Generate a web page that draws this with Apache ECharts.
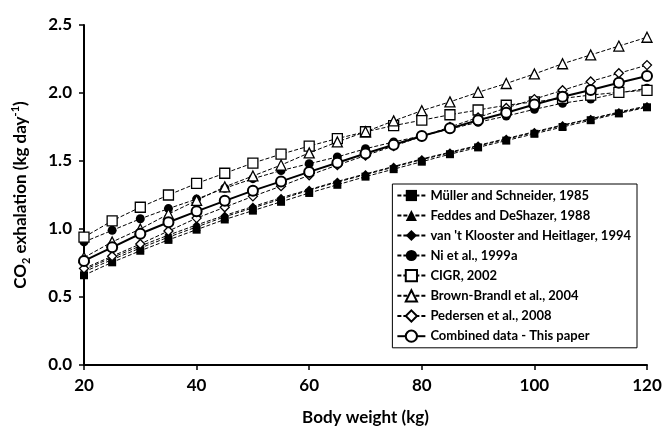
<!DOCTYPE html>
<html>
<head>
<meta charset="utf-8">
<script src="https://cdn.jsdelivr.net/npm/echarts@6/dist/echarts.min.js"></script>
<style>
html,body{margin:0;padding:0;background:#fff;}
#chart{width:665px;height:435px;}
</style>
</head>
<body>
<div id="chart"></div>
<script>
var weights = [20,25,30,35,40,45,50,55,60,65,70,75,80,85,90,95,100,105,110,115,120];
var muller = [0.66,0.755,0.84,0.92,0.995,1.07,1.135,1.20,1.265,1.325,1.385,1.44,1.495,1.55,1.60,1.65,1.70,1.75,1.80,1.85,1.895];
var feddes = [0.685,0.775,0.86,0.94,1.015,1.09,1.155,1.22,1.285,1.345,1.40,1.455,1.51,1.56,1.61,1.66,1.71,1.76,1.81,1.855,1.90];
var klooster = [0.70,0.79,0.875,0.955,1.03,1.10,1.165,1.23,1.29,1.35,1.405,1.46,1.515,1.565,1.615,1.665,1.715,1.765,1.81,1.86,1.905];
var ni = [0.905,0.99,1.075,1.15,1.22,1.30,1.37,1.43,1.48,1.53,1.59,1.64,1.685,1.735,1.785,1.83,1.88,1.925,1.955,2.0,2.035];
var cigr = [0.94,1.06,1.16,1.25,1.335,1.41,1.485,1.55,1.61,1.665,1.715,1.76,1.80,1.84,1.875,1.91,1.935,1.96,1.985,2.005,2.02];
var brown = [0.79,0.905,1.0,1.11,1.21,1.31,1.39,1.47,1.56,1.64,1.715,1.795,1.87,1.935,2.005,2.07,2.14,2.215,2.28,2.345,2.41];
var pedersen = [0.71,0.80,0.89,0.985,1.08,1.16,1.24,1.315,1.395,1.47,1.54,1.61,1.68,1.75,1.82,1.89,1.955,2.02,2.085,2.145,2.205];
var combined = [0.765,0.865,0.965,1.05,1.13,1.207,1.282,1.35,1.42,1.487,1.555,1.62,1.684,1.74,1.80,1.855,1.915,1.972,2.022,2.076,2.125];

var seriesNames = ["Müller and Schneider, 1985","Feddes and DeShazer, 1988","van 't Klooster and Heitlager, 1994","Ni et al., 1999a","CIGR, 2002","Brown-Brandl et al., 2004","Pedersen et al., 2008","Combined data - This paper"];
var xTicks = [20,40,60,80,100,120];
var yTicks = [0,0.5,1.0,1.5,2.0,2.5];

function pairs(vals){ return weights.map(function(w,i){ return [w, vals[i]]; }); }

function dashed(name, vals, symbol, size, filled){
  return {
    name: name, type: 'line', data: pairs(vals),
    symbol: symbol, symbolSize: size, showSymbol: true,
    lineStyle: {color:'#000', width:1, type:[4,2]},
    itemStyle: {color: filled ? '#000' : '#fff', borderColor:'#000', borderWidth: filled ? 0 : 1.3},
    emphasis: {disabled:true}, animation:false
  };
}

var chart = echarts.init(document.getElementById('chart'), null, {renderer:'canvas'});
var font = 'Lato, "Open Sans", sans-serif';
chart.setOption({
  backgroundColor:'#fff',
  animation:false,
  grid:{left:84, right:18, top:25, bottom:70, outerBoundsMode:'none'},
  xAxis:{
    type:'value', min:xTicks[0], max:xTicks[xTicks.length-1], interval:20,
    name:'Body weight (kg)', nameLocation:'middle', nameGap:44,
    nameTextStyle:{fontFamily:font, fontWeight:'bold', fontSize:17, color:'#000'},
    axisLine:{lineStyle:{color:'#000', width:2}},
    axisTick:{show:true, inside:false, length:5, lineStyle:{color:'#000', width:1.5}},
    axisLabel:{fontFamily:font, fontWeight:'bold', fontSize:17, color:'#000', margin:12},
    splitLine:{show:false}
  },
  yAxis:{
    type:'value', min:yTicks[0], max:yTicks[yTicks.length-1], interval:0.5,
    name:'{a|CO}{s|2}{a| exhalation (kg day}{p|-1}{a|)}', nameLocation:'middle', nameGap:52, nameRotate:90,
    nameTextStyle:{
      fontFamily:font, fontWeight:'bold', fontSize:17, color:'#000',
      rich:{
        a:{fontFamily:font, fontWeight:'bold', fontSize:17, color:'#000', lineHeight:22, verticalAlign:'middle'},
        s:{fontFamily:font, fontWeight:'bold', fontSize:11, color:'#000', lineHeight:11, verticalAlign:'bottom'},
        p:{fontFamily:font, fontWeight:'bold', fontSize:11, color:'#000', lineHeight:11, verticalAlign:'top'}
      }
    },
    axisLine:{show:true, lineStyle:{color:'#000', width:2}},
    axisTick:{show:true, inside:false, length:5, lineStyle:{color:'#000', width:1.5}},
    axisLabel:{fontFamily:font, fontWeight:'bold', fontSize:17, color:'#000', margin:12,
      formatter:function(v){ return v.toFixed(1); }},
    splitLine:{show:false}
  },
  legend:{
    orient:'vertical', right:28, top:184,
    backgroundColor:'#fff', borderColor:'#000', borderWidth:1,
    padding:[5,6,5,4], itemGap:7, itemWidth:28, itemHeight:14,
    textStyle:{fontFamily:font, fontSize:13, color:'#000', fontWeight:'bold'},
    data: seriesNames
  },
  series:[
    dashed(seriesNames[0], muller, 'rect', 8, true),
    dashed(seriesNames[1], feddes, 'triangle', 8, true),
    dashed(seriesNames[2], klooster, 'diamond', 8, true),
    dashed(seriesNames[3], ni, 'circle', 9, true),
    dashed(seriesNames[4], cigr, 'rect', 10, false),
    dashed(seriesNames[5], brown, 'triangle', 10, false),
    dashed(seriesNames[6], pedersen, 'diamond', 9, false),
    {
      name: seriesNames[7], type:'line', data: pairs(combined),
      symbol:'circle', symbolSize:10, showSymbol:true,
      lineStyle:{color:'#000', width:2, type:'solid'},
      itemStyle:{color:'#fff', borderColor:'#000', borderWidth:2},
      emphasis:{disabled:true}, animation:false, z:5
    }
  ]
});
</script>
</body>
</html>
